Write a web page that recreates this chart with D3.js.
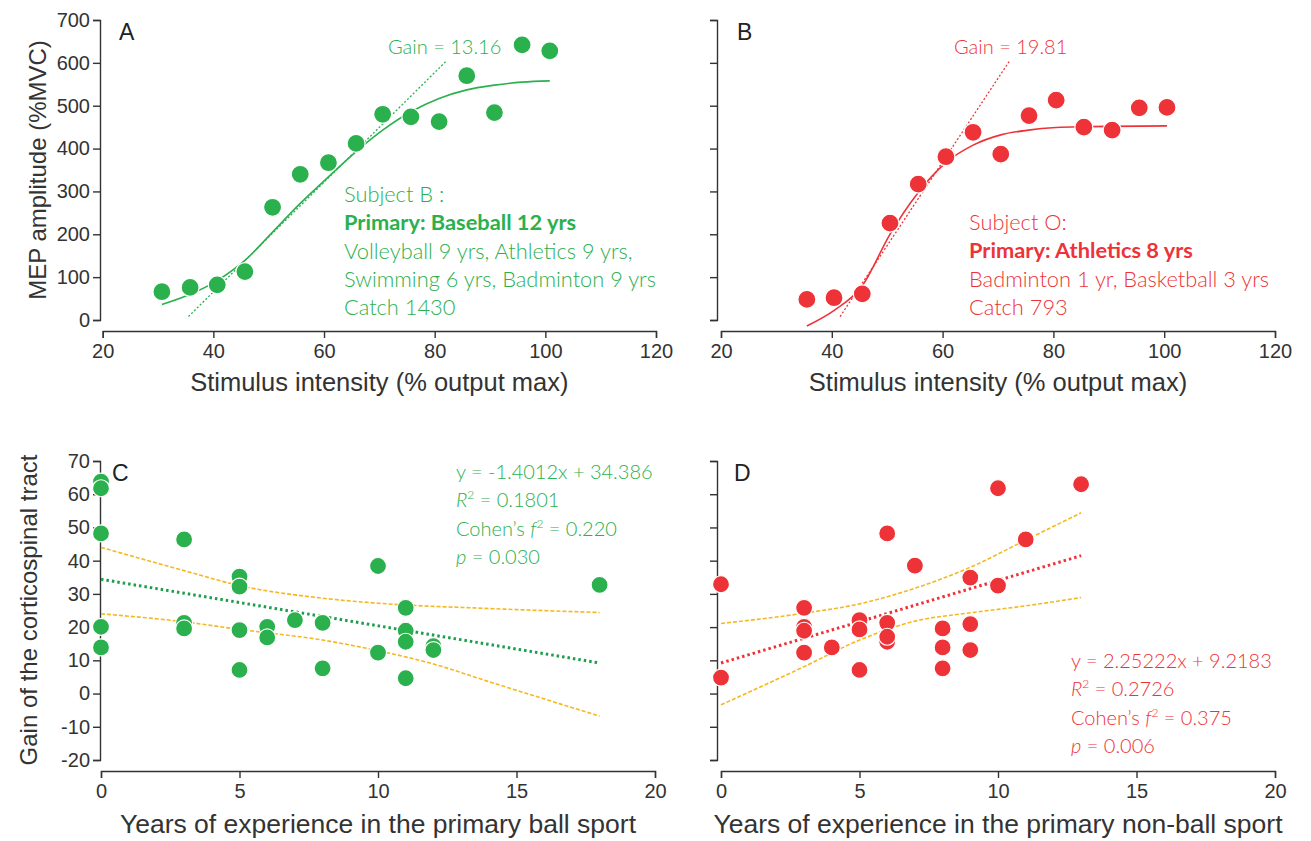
<!DOCTYPE html>
<html>
<head>
<meta charset="utf-8">
<script src="https://cdn.jsdelivr.net/npm/d3@7"></script>
<style>
  body { margin: 0; background: #fff; }
  .axis path, .axis line { stroke: #333; stroke-width: 1.4; }
  .axis text { font-family: "Liberation Sans Narrow", "Liberation Sans", Arial, sans-serif; font-size: 20px; fill: #333; }
  .title { font-family: "Liberation Sans Narrow", "Liberation Sans", Arial, sans-serif; font-size: 25.5px; fill: #333; }
  .ytitle { font-size: 24px; }
  .note { font-family: Lato, "Open Sans", sans-serif; font-size: 20px; font-weight: 300; }
  .subj { font-size: 21.8px; }
  .letter { font-family: "Liberation Sans", Arial, sans-serif; font-size: 23px; fill: #222; }
</style>
</head>
<body>
<div id="vizcont"></div>
<script>
// colours
var green = "#2bb04e", red = "#ee3338", gold = "#f5b820", darkGreen = "#1e9e4c";

// panel A : subject B (ball sport)
var aX = [30.7, 35.8, 40.7, 45.7, 50.7, 55.7, 60.8, 65.8, 70.6, 75.7, 80.8, 85.8, 90.8, 95.8, 100.8];
var aY = [66, 76, 82, 113, 263, 340, 367, 412, 480, 474, 463, 570, 484, 642, 628];
var aFitX = [30.7, 35.8, 40.7, 45.7, 50.7, 55.7, 60.8, 65.8, 70.6, 75.7, 80.8, 85.8, 90.8, 95.8, 100.8];
var aFitY = [36, 60, 92, 139, 205, 272, 334, 393, 443, 486, 517, 537, 548, 555, 558];
var aTanX = [35.5, 82];
var aTanY = [8, 603];

// panel B : subject O (non-ball sport)
var bX = [35.5, 40.4, 45.5, 50.5, 55.6, 60.6, 65.5, 70.5, 75.6, 80.5, 85.5, 90.6, 95.5, 100.5];
var bY = [48, 52, 61, 226, 317, 381, 438, 387, 477, 513, 450, 443, 495, 496];
var bFitX = [35.5, 40.5, 45.5, 50.5, 55.5, 60.5, 65.5, 70.5, 75.5, 80.5, 85.5, 100.5];
var bFitY = [-14, 23, 80, 200, 296, 366, 408, 432, 443, 449, 451, 453];
var bTanX = [41.5, 72];
var bTanY = [8, 603];

// panel C : years in primary ball sport vs gain
var cX = [0, 0, 0, 0, 0, 3, 3, 3, 5, 5, 5, 5, 6, 6, 7, 8, 8, 10, 10, 11, 11, 11, 11, 12, 12, 18];
var cY = [63.8, 61.8, 48.2, 20.1, 13.9, 46.4, 21.3, 19.6, 35.2, 32.2, 19.1, 7.1, 20.1, 16.9, 22.1, 21.3, 7.6, 38.4, 12.3, 25.8, 18.9, 15.6, 4.6, 14.3, 13.1, 32.7];
var cLineX = [0, 18];
var cLineY = [34.4, 9.2];
var cUpX = [0, 3, 5, 8, 10, 14, 18];
var cUpY = [44.0, 37.0, 32.5, 28.7, 27.2, 25.6, 24.4];
var cLoX = [0, 3, 5, 8, 10, 12, 14, 18];
var cLoY = [24.0, 21.6, 19.3, 16.1, 12.9, 8.9, 3.6, -6.8];

// panel D : years in primary non-ball sport vs gain
var dX = [0, 0, 3, 3, 3, 3, 4, 5, 5, 5, 6, 6, 6, 6, 7, 8, 8, 8, 9, 9, 9, 10, 10, 11, 13];
var dY = [32.9, 4.8, 25.8, 20.1, 18.9, 12.3, 13.9, 22.1, 19.3, 7.1, 48.2, 21.3, 15.6, 17.1, 38.5, 19.6, 13.9, 7.6, 34.9, 20.9, 13.1, 61.8, 32.5, 46.4, 63.0];
var dLineX = [0, 13];
var dLineY = [9.2, 41.5];
var dUpX = [0, 3, 5, 7, 9, 11, 13];
var dUpY = [21.1, 24.2, 27.0, 31.7, 38.0, 46.2, 54.4];
var dLoX = [0, 3, 5, 7, 9, 11, 13];
var dLoY = [-3.4, 8.1, 16.1, 21.8, 24.3, 26.4, 28.9];

// tick values
var stimTicks = [20, 40, 60, 80, 100, 120];
var mepTicks = [0, 100, 200, 300, 400, 500, 600, 700];
var yearTicks = [0, 5, 10, 15, 20];
var gainTicks = [-20, -10, 0, 10, 20, 30, 40, 50, 60, 70];

var width = 1311, height = 841;
var svg = d3.select("#vizcont").append("svg")
    .attr("width", width).attr("height", height);

function zip(xs, ys) { return xs.map(function(v, i) { return [v, ys[i]]; }); }
// plain hyphen for negatives, as in the original
function fmt(d) { return String(d); }

function panel(opt) {
  var x = d3.scaleLinear().domain(opt.xDomain).range(opt.xRange);
  var y = d3.scaleLinear().domain(opt.yDomain).range(opt.yRange);

  // y axis
  var ya = svg.append("g").attr("class", "axis")
      .attr("transform", "translate(" + opt.yAxisX + ",0)")
      .call(d3.axisLeft(y).tickValues(opt.yTicks).tickFormat(fmt).tickSize(7).tickSizeOuter(7));
  if (!opt.yLabels) ya.selectAll("text").remove();
  ya.selectAll("text").attr("x", -10);

  // x axis
  svg.append("g").attr("class", "axis")
      .attr("transform", "translate(0," + opt.xAxisY + ")")
      .call(d3.axisBottom(x).tickValues(opt.xTicks).tickFormat(fmt).tickSize(7).tickSizeOuter(7))
      .selectAll("text").attr("y", 13);

  svg.append("text").attr("class", "title")
      .attr("x", (opt.xRange[0] + opt.xRange[1]) / 2).attr("y", opt.xAxisY + opt.titleDy)
      .attr("text-anchor", "middle").style("font-size", opt.titleSize).text(opt.xTitle);

  svg.append("text").attr("class", "letter")
      .attr("x", opt.letterPos[0]).attr("y", opt.letterPos[1]).text(opt.letter);

  var line = d3.line().x(function(d) { return x(d[0]); }).y(function(d) { return y(d[1]); });
  return { x: x, y: y, line: line };
}

function dots(p, xs, ys, r, color) {
  svg.append("g").selectAll("circle").data(zip(xs, ys)).enter().append("circle")
    .attr("cx", function(d) { return p.x(d[0]); }).attr("cy", function(d) { return p.y(d[1]); })
    .attr("r", r).attr("fill", color).attr("stroke", "#fff").attr("stroke-width", 1.2);
}

function path(p, xs, ys, curve, color, w, dash) {
  svg.append("path").attr("d", p.line.curve(curve)(zip(xs, ys)))
    .attr("fill", "none").attr("stroke", color).attr("stroke-width", w)
    .attr("stroke-dasharray", dash);
}

// ---------- A ----------
var pA = panel({ xDomain: [20, 120], xRange: [102.7, 656], yDomain: [0, 700], yRange: [320, 20],
  yAxisX: 100, xAxisY: 331, xTicks: stimTicks, yTicks: mepTicks, yLabels: true, titleSize: "25.5px",
  xTitle: "Stimulus intensity (% output max)", titleDy: 60, letter: "A", letterPos: [119, 40] });
path(pA, aFitX, aFitY, d3.curveMonotoneX, green, 1.6, null);
path(pA, aTanX, aTanY, d3.curveLinear, green, 1.3, "2,2");
dots(pA, aX, aY, 9, green);

// ---------- B ----------
var pB = panel({ xDomain: [20, 120], xRange: [721, 1275], yDomain: [0, 700], yRange: [320, 20],
  yAxisX: 717, xAxisY: 331, xTicks: stimTicks, yTicks: mepTicks, yLabels: false, titleSize: "25.5px",
  xTitle: "Stimulus intensity (% output max)", titleDy: 60, letter: "B", letterPos: [737, 40] });
path(pB, bFitX, bFitY, d3.curveMonotoneX, red, 1.6, null);
path(pB, bTanX, bTanY, d3.curveLinear, red, 1.3, "2,2");
dots(pB, bX, bY, 9, red);

// ---------- C ----------
var pC = panel({ xDomain: [0, 20], xRange: [101, 655], yDomain: [-20, 70], yRange: [760, 461],
  yAxisX: 100, xAxisY: 771, xTicks: yearTicks, yTicks: gainTicks, yLabels: true, titleSize: "26.5px",
  xTitle: "Years of experience in the primary ball sport", titleDy: 62, letter: "C", letterPos: [112, 481] });
path(pC, cUpX, cUpY, d3.curveMonotoneX, gold, 1.6, "4,2");
path(pC, cLoX, cLoY, d3.curveMonotoneX, gold, 1.6, "4,2");
path(pC, cLineX, cLineY, d3.curveLinear, darkGreen, 3, "2.5,3");
dots(pC, cX, cY, 8.5, green);

// ---------- D ----------
var pD = panel({ xDomain: [0, 20], xRange: [721, 1275], yDomain: [-20, 70], yRange: [760, 461],
  yAxisX: 717, xAxisY: 771, xTicks: yearTicks, yTicks: gainTicks, yLabels: false, titleSize: "26.5px",
  xTitle: "Years of experience in the primary non-ball sport", titleDy: 62, letter: "D", letterPos: [734, 481] });
path(pD, dUpX, dUpY, d3.curveMonotoneX, gold, 1.6, "4,2");
path(pD, dLoX, dLoY, d3.curveMonotoneX, gold, 1.6, "4,2");
path(pD, dLineX, dLineY, d3.curveLinear, red, 3, "2.5,3");
dots(pD, dX, dY, 8.5, red);

// y axis titles
svg.append("text").attr("class", "title ytitle").attr("text-anchor", "middle")
  .attr("transform", "translate(46,170) rotate(-90)").text("MEP amplitude (%MVC)");
svg.append("text").attr("class", "title ytitle").attr("text-anchor", "middle")
  .attr("transform", "translate(37,610) rotate(-90)").text("Gain of the corticospinal tract");

// ---------- annotations ----------
function note(x, y, color, cls, lines) {
  var t = svg.append("text").attr("class", "note " + cls).attr("fill", color);
  lines.forEach(function(l, i) {
    var row = t.append("tspan").attr("x", x).attr("y", y + i * 28.3);
    l.forEach(function(p) {
      var s = row.append("tspan").text(p.t);
      if (p.b) s.attr("font-weight", 700);
      if (p.i) s.attr("font-style", "italic");
      if (p.sup) s.attr("font-size", "12px").attr("dy", -8);
      if (p.back) s.attr("dy", 8);
    });
  });
}

note(388, 54, green, "", [[{ t: "Gain = 13.16" }]]);
note(344, 202, green, "subj", [
  [{ t: "Subject B :" }],
  [{ t: "Primary: Baseball 12 yrs", b: true }],
  [{ t: "Volleyball 9 yrs, Athletics 9 yrs," }],
  [{ t: "Swimming 6 yrs, Badminton 9 yrs" }],
  [{ t: "Catch 1430" }]
]);
note(954, 54, red, "", [[{ t: "Gain = 19.81" }]]);
note(969, 230, red, "subj", [
  [{ t: "Subject O:" }],
  [{ t: "Primary: Athletics 8 yrs", b: true }],
  [{ t: "Badminton 1 yr, Basketball 3 yrs" }],
  [{ t: "Catch 793" }]
]);
note(456, 479, green, "", [
  [{ t: "y = -1.4012x + 34.386" }],
  [{ t: "R", i: true }, { t: "2", sup: true }, { t: " = 0.1801", back: true }],
  [{ t: "Cohen\u2019s " }, { t: "f", i: true }, { t: "2", sup: true }, { t: " = 0.220", back: true }],
  [{ t: "p", i: true }, { t: " = 0.030" }]
]);
note(1071, 668, red, "", [
  [{ t: "y = 2.25222x + 9.2183" }],
  [{ t: "R", i: true }, { t: "2", sup: true }, { t: " = 0.2726", back: true }],
  [{ t: "Cohen\u2019s " }, { t: "f", i: true }, { t: "2", sup: true }, { t: " = 0.375", back: true }],
  [{ t: "p", i: true }, { t: " = 0.006" }]
]);
</script>
</body>
</html>
